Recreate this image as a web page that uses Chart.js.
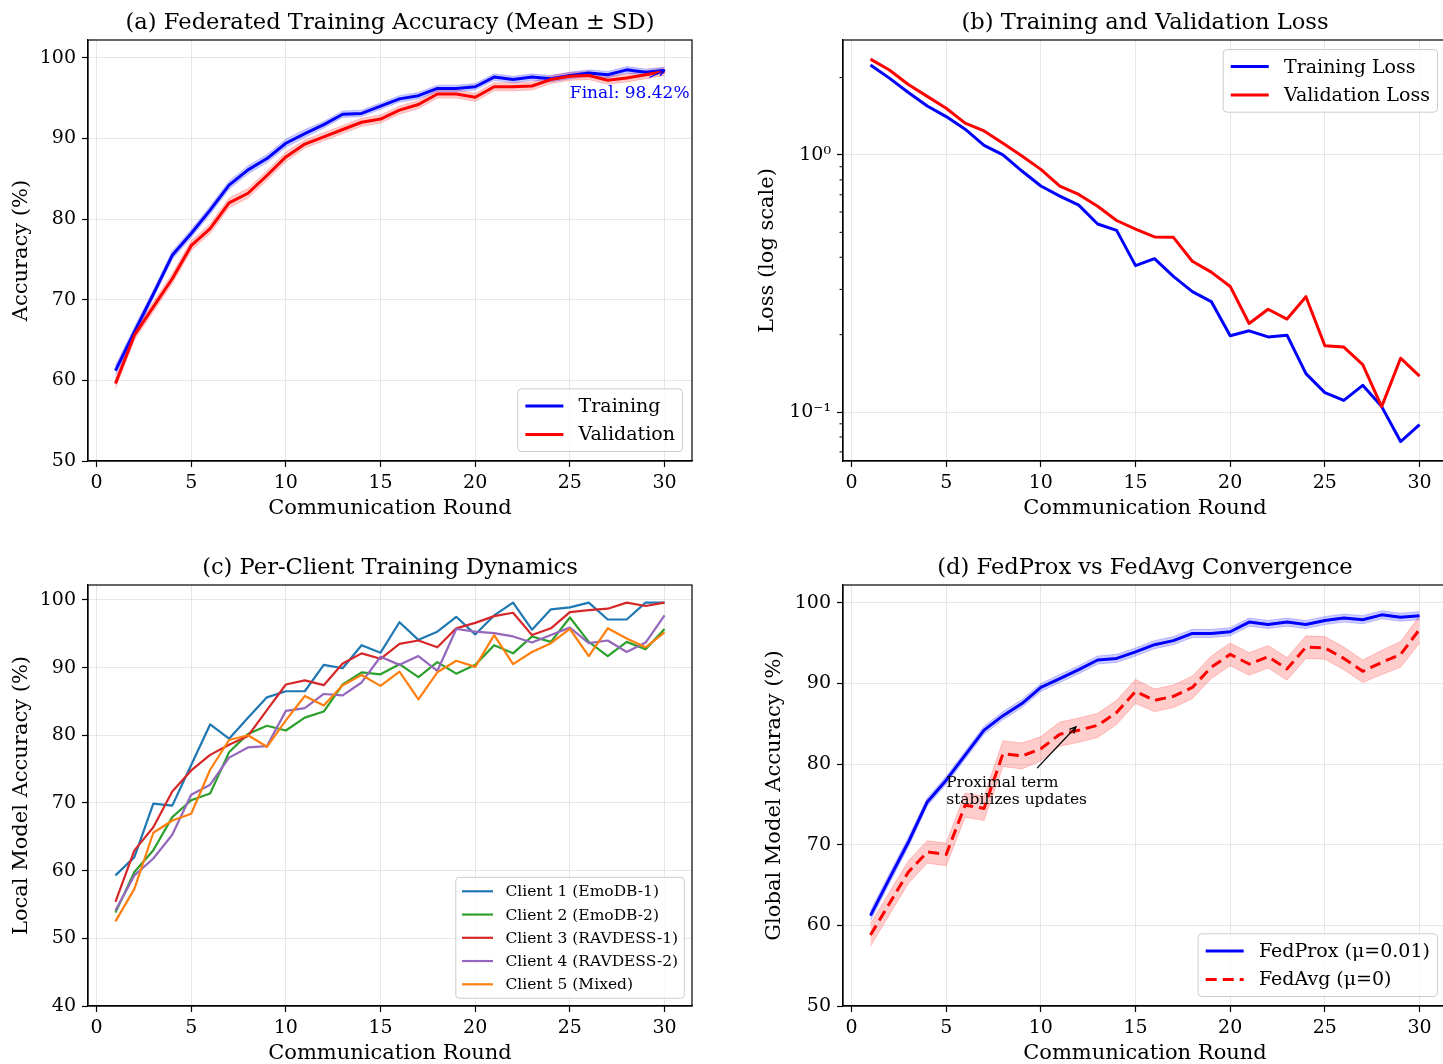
<!DOCTYPE html>
<html>
<head>
<meta charset="utf-8">
<script src="https://cdn.jsdelivr.net/npm/chart.js@4.4.0/dist/chart.umd.min.js"></script>
<style>
html,body{margin:0;padding:0;background:#fff;overflow:hidden;width:1443px;height:1064px;}
canvas{position:absolute;}
</style>
</head>
<body>
<canvas id="ca" width="780" height="531" style="left:0;top:0"></canvas>
<canvas id="cb" width="844" height="531" style="left:723px;top:0"></canvas>
<canvas id="cc" width="780" height="531" style="left:0;top:545px"></canvas>
<canvas id="cd" width="844" height="531" style="left:723px;top:545px"></canvas>
<script>
// values
const rounds = [1,2,3,4,5,6,7,8,9,10,11,12,13,14,15,16,17,18,19,20,21,22,23,24,25,26,27,28,29,30];
const xTicks = [0,5,10,15,20,25,30];
const accTicks = [50,60,70,80,90,100];
const clientTicks = [40,50,60,70,80,90,100];
const logTicks = [0.1,1];
const logLabels = ['10\u207B\u00B9','10\u2070'];
const logMinor = [0.07,0.08,0.09,0.2,0.3,0.4,0.5,0.6,0.7,0.8,0.9,2];

// (a)
const trainAcc = [61.2,66.0,70.7,75.5,78.2,81.1,84.2,86.1,87.5,89.4,90.6,91.7,93.0,93.1,94.0,94.9,95.3,96.2,96.2,96.4,97.6,97.3,97.6,97.4,97.8,98.1,97.9,98.5,98.2,98.42];
const trainSd  = [0.6,0.6,0.5,0.5,0.5,0.5,0.5,0.5,0.5,0.5,0.5,0.4,0.4,0.4,0.4,0.4,0.4,0.4,0.4,0.4,0.4,0.4,0.4,0.4,0.4,0.4,0.4,0.4,0.4,0.4];
const valAcc   = [59.6,65.6,69.1,72.6,76.7,78.8,82.0,83.2,85.4,87.7,89.3,90.2,91.1,92.0,92.4,93.5,94.2,95.5,95.5,95.1,96.4,96.4,96.5,97.3,97.7,97.8,97.2,97.5,97.9,98.3];
const valSd    = [0.6,0.6,0.6,0.6,0.6,0.6,0.6,0.6,0.6,0.6,0.5,0.5,0.5,0.5,0.5,0.5,0.5,0.5,0.5,0.5,0.5,0.5,0.5,0.5,0.5,0.5,0.5,0.5,0.5,0.5];

// (b)
const trainLoss = [2.24,1.99,1.75,1.55,1.41,1.26,1.09,1.00,0.866,0.757,0.692,0.638,0.539,0.509,0.371,0.395,0.337,0.294,0.269,0.198,0.207,0.196,0.199,0.141,0.119,0.111,0.127,0.105,0.0768,0.0893];
const valLoss   = [2.36,2.14,1.88,1.69,1.52,1.33,1.24,1.11,0.991,0.879,0.757,0.702,0.632,0.556,0.515,0.480,0.478,0.386,0.350,0.308,0.221,0.251,0.230,0.281,0.181,0.179,0.153,0.105,0.162,0.138];

// (c)
const client1 = [59.3,62.0,69.9,69.6,75.6,81.6,79.5,82.6,85.6,86.5,86.5,90.4,89.9,93.3,92.2,96.7,94.1,95.3,97.5,94.9,97.7,99.6,95.6,98.6,98.9,99.6,97.1,97.1,99.6,99.6];
const client2 = [53.8,59.8,63.0,67.9,70.4,71.4,77.5,80.2,81.4,80.7,82.6,83.5,87.5,89.3,89.0,90.5,88.6,90.8,89.1,90.4,93.3,92.1,94.6,93.8,97.4,93.8,91.7,93.8,92.7,95.7];
const client3 = [55.4,63.0,66.4,71.7,74.8,77.1,78.6,79.9,83.7,87.5,88.1,87.4,90.6,92.1,91.3,93.5,94.0,93.0,95.8,96.6,97.6,98.1,94.8,95.8,98.2,98.5,98.7,99.6,99.1,99.6];
const client4 = [54.1,59.3,61.8,65.3,71.2,72.7,76.7,78.2,78.4,83.6,84.0,86.1,85.9,87.8,91.6,90.4,91.7,89.5,95.7,95.3,95.1,94.6,93.7,94.8,95.9,93.6,94.0,92.3,93.7,97.7];
const client5 = [52.5,57.3,65.6,67.4,68.4,74.9,79.3,80.0,78.3,82.2,85.8,84.4,87.4,88.9,87.3,89.4,85.3,89.3,91.0,90.1,94.8,90.5,92.3,93.6,95.7,91.7,95.8,94.3,93.0,95.2];
const clientNames = ['Client 1 (EmoDB-1)','Client 2 (EmoDB-2)','Client 3 (RAVDESS-1)','Client 4 (RAVDESS-2)','Client 5 (Mixed)'];
const clientColors = ['#1f77b4','#2ca02c','#d62728','#9467bd','#ff7f0e'];

// (d)
const fedProx   = [61.2,65.8,70.3,75.3,78.0,81.1,84.2,86.0,87.5,89.5,90.6,91.7,92.9,93.1,93.9,94.8,95.3,96.2,96.2,96.4,97.6,97.3,97.6,97.3,97.8,98.1,97.9,98.5,98.2,98.4];
const fedProxSd = [0.6,0.6,0.6,0.5,0.5,0.5,0.5,0.5,0.5,0.5,0.5,0.5,0.5,0.5,0.5,0.5,0.5,0.5,0.5,0.5,0.5,0.5,0.5,0.5,0.5,0.5,0.5,0.5,0.5,0.5];
const fedAvg    = [58.8,62.7,66.6,69.1,68.8,74.9,74.5,81.3,81.0,81.9,83.7,84.2,84.8,86.4,89.0,87.9,88.4,89.5,92.0,93.6,92.4,93.3,91.8,94.5,94.4,93.1,91.5,92.6,93.6,96.7];
const fedAvgSd  = [1.4,1.4,1.4,1.4,1.4,1.5,1.5,1.6,1.6,1.5,1.5,1.5,1.5,1.5,1.5,1.4,1.4,1.4,1.4,1.4,1.4,1.4,1.4,1.4,1.4,1.4,1.4,1.5,1.6,1.7];

const FONT = '"DejaVu Serif"';
Chart.defaults.font.family = FONT;
Chart.defaults.color = '#000';
const GRID = 'rgba(176,176,176,0.3)';

function pts(vals){ return rounds.map((r,i)=>({x:r, y:vals[i]})); }

function line(label, vals, color, width, extra){
  return Object.assign({label, legend:true, data:pts(vals), borderColor:color, backgroundColor:color,
    borderWidth:width, pointRadius:0, fill:false, tension:0, borderJoinStyle:'round'}, extra||{});
}
function band(mean, sd, rgb){
  const c = 'rgba(' + rgb + ',0.2)';
  return [
    {data:pts(mean.map((m,i)=>m+sd[i])), borderColor:c, borderWidth:1, pointRadius:0, fill:false, order:10},
    {data:pts(mean.map((m,i)=>m-sd[i])), borderColor:c, borderWidth:1, pointRadius:0, fill:'-1', backgroundColor:c, order:10}
  ];
}

function xAxis(){
  return {
    type:'linear', min:-0.45, max:31.45,
    afterBuildTicks: s => { s.ticks = xTicks.map(v=>({value:v})); },
    afterFit: s => { s.height = 70; },
    grid:{color:GRID, lineWidth:1, tickLength:6, tickColor:'#000', tickWidth:1.2},
    border:{color:'#000', width:1.2},
    ticks:{font:{size:19}, padding:5, color:'#000', maxRotation:0, autoSkip:false},
    title:{display:true, text:'Communication Round', font:{size:21}, padding:{top:0, bottom:10}, color:'#000'}
  };
}
function yAxis(type, min, max, ticks, title, width, tpad, labels){
  return {
    type, min, max,
    afterBuildTicks: s => { s.ticks = ticks.map(v=>({value:v})); },
    afterFit: s => { s.width = width; },
    grid:{color:GRID, lineWidth:1, tickLength:6, tickColor:'#000', tickWidth:1.2},
    border:{color:'#000', width:1.2},
    ticks:{font:{size:19}, padding:6, color:'#000', autoSkip:false,
      callback: (v, i) => labels ? labels[i] : String(v)},
    title:{display:true, text:title, font:{size:21}, padding:{top:tpad, bottom:0}, color:'#000'}
  };
}

// plugins
const frame = {
  id:'frame',
  afterDraw(chart){
    const a = chart.chartArea, ctx = chart.ctx;
    ctx.save(); ctx.strokeStyle = '#000'; ctx.lineWidth = 1.2;
    ctx.strokeRect(a.left, a.top, a.right - a.left, a.bottom - a.top);
    ctx.restore();
  }
};
const minorTicks = {
  id:'minorTicks',
  afterDraw(chart, args, o){
    if(!o.values) return;
    const s = chart.scales.y, a = chart.chartArea, ctx = chart.ctx;
    ctx.save(); ctx.strokeStyle = '#000'; ctx.lineWidth = 1;
    o.values.forEach(v=>{
      const py = s.getPixelForValue(v);
      if(py < a.top || py > a.bottom) return;
      ctx.beginPath(); ctx.moveTo(a.left, py); ctx.lineTo(a.left - 3.5, py); ctx.stroke();
    });
    ctx.restore();
  }
};
function arrow(ctx, x1, y1, x2, y2){
  ctx.beginPath(); ctx.moveTo(x1, y1); ctx.lineTo(x2, y2); ctx.stroke();
  const ang = Math.atan2(y2 - y1, x2 - x1), L = 7, w = 0.45;
  ctx.beginPath();
  ctx.moveTo(x2 - L*Math.cos(ang - w), y2 - L*Math.sin(ang - w));
  ctx.lineTo(x2, y2);
  ctx.lineTo(x2 - L*Math.cos(ang + w), y2 - L*Math.sin(ang + w));
  ctx.stroke();
}
const notes = {
  id:'notes',
  afterDraw(chart, args, o){
    const xs = chart.scales.x, ys = chart.scales.y, ctx = chart.ctx;
    (o.items || []).forEach(n=>{
      ctx.save();
      ctx.font = n.size + 'px ' + FONT;
      ctx.fillStyle = n.color; ctx.strokeStyle = n.color; ctx.lineWidth = 1.3;
      ctx.textAlign = 'left'; ctx.textBaseline = 'alphabetic';
      const tx = xs.getPixelForValue(n.at[0]), ty = ys.getPixelForValue(n.at[1]);
      n.lines.forEach((t, i)=>{
        ctx.fillText(t, tx, ty - (n.lines.length - 1 - i) * n.gap);
      });
      arrow(ctx, xs.getPixelForValue(n.from[0]), ys.getPixelForValue(n.from[1]),
                 xs.getPixelForValue(n.to[0]), ys.getPixelForValue(n.to[1]));
      ctx.restore();
    });
  }
};
const boxLegend = {
  id:'boxLegend',
  afterDraw(chart, args, o){
    const a = chart.chartArea, ctx = chart.ctx;
    const items = chart.data.datasets.filter(d=>d.legend).sort((p,q)=>p.li - q.li);
    const fs = o.size;
    ctx.save();
    ctx.font = fs + 'px ' + FONT;
    const tw = Math.max(...items.map(d=>ctx.measureText(d.label).width));
    const pad = 0.4*fs, hl = 2*fs, gap = 0.8*fs, m = 0.5*fs;
    const w = 2*pad + hl + gap + tw;
    const h = 2*pad + items.length*fs + (items.length - 1)*0.5*fs;
    const x = a.right - m - w;
    const y = o.pos === 'top' ? a.top + m : a.bottom - m - h;
    ctx.beginPath(); ctx.roundRect(x, y, w, h, 0.2*fs);
    ctx.fillStyle = 'rgba(255,255,255,0.8)'; ctx.fill();
    ctx.strokeStyle = '#cccccc'; ctx.lineWidth = 1; ctx.stroke();
    items.forEach((d, i)=>{
      const cy = y + pad + i*1.5*fs + fs/2;
      ctx.beginPath(); ctx.moveTo(x + pad, cy); ctx.lineTo(x + pad + hl, cy);
      ctx.strokeStyle = d.borderColor; ctx.lineWidth = d.borderWidth;
      ctx.setLineDash(d.borderDash || []); ctx.stroke(); ctx.setLineDash([]);
      ctx.fillStyle = '#000'; ctx.textAlign = 'left'; ctx.textBaseline = 'middle';
      ctx.fillText(d.label, x + pad + hl + gap, cy + 1);
    });
    ctx.restore();
  }
};
const panelTitle = {
  id:'panelTitle',
  afterDraw(chart, args, o){
    const a = chart.chartArea, ctx = chart.ctx;
    ctx.save();
    ctx.font = '22.6px ' + FONT; ctx.fillStyle = '#000';
    ctx.textAlign = 'center'; ctx.textBaseline = 'middle';
    ctx.fillText(o.text, (a.left + a.right)/2, a.top - 16.5);
    ctx.restore();
  }
};

function make(id, datasets, y, rightPad, plug){
  return new Chart(document.getElementById(id), {
    type:'line',
    data:{datasets},
    options:{
      responsive:false, animation:false, devicePixelRatio:1,
      layout:{padding:{left:0, right:rightPad, top:40, bottom:0}},
      scales:{x:xAxis(), y},
      plugins:Object.assign({legend:{display:false}, tooltip:{enabled:false}}, plug)
    },
    plugins:[frame, minorTicks, notes, boxLegend, panelTitle]
  });
}

// (a)
make('ca', [
  line('Validation', valAcc, '#ff0000', 3, {order:1, li:1}),
  line('Training', trainAcc, '#0000ff', 3, {order:2, li:0}),
  ...band(trainAcc, trainSd, '0,0,255'),
  ...band(valAcc, valSd, '255,0,0')
], yAxis('linear', 50, 102.2, accTicks, 'Accuracy (%)', 88, 9.4), 88, {
  panelTitle:{text:'(a) Federated Training Accuracy (Mean \u00B1 SD)'},
  boxLegend:{size:19, pos:'bottom'},
  notes:{items:[{lines:['Final: 98.42%'], at:[25, 95.0], size:17, gap:0, color:'#0000ff',
    from:[29.2, 97.55], to:[30, 98.42]}]}
});

// (b)
make('cb', [
  line('Validation Loss', valLoss, '#ff0000', 3, {order:1, li:1}),
  line('Training Loss', trainLoss, '#0000ff', 3, {order:2, li:0})
], yAxis('logarithmic', 0.0645, 2.80, logTicks, 'Loss (log scale)', 120, 32.4, logLabels), 120, {
  panelTitle:{text:'(b) Training and Validation Loss'},
  boxLegend:{size:19, pos:'top'},
  minorTicks:{values:logMinor}
});

// (c)
const clientVals = [client1, client2, client3, client4, client5];
make('cc', clientVals.map((v, i)=>line(clientNames[i], v, clientColors[i], 2.2, {order:5 - i, li:i})),
  yAxis('linear', 40, 102.2, clientTicks, 'Local Model Accuracy (%)', 88, 9.4), 88, {
  panelTitle:{text:'(c) Per-Client Training Dynamics'},
  boxLegend:{size:15.5, pos:'bottom'}
});

// (d)
make('cd', [
  line('FedAvg (\u03BC=0)', fedAvg, '#ff0000', 3, {order:1, li:1, borderDash:[11,6]}),
  line('FedProx (\u03BC=0.01)', fedProx, '#0000ff', 3, {order:2, li:0}),
  ...band(fedProx, fedProxSd, '0,0,255'),
  ...band(fedAvg, fedAvgSd, '255,0,0')
], yAxis('linear', 50, 102.2, accTicks, 'Global Model Accuracy (%)', 120, 39.4), 120, {
  panelTitle:{text:'(d) FedProx vs FedAvg Convergence'},
  boxLegend:{size:19, pos:'bottom'},
  notes:{items:[{lines:['Proximal term', 'stabilizes updates'], at:[5, 75.0], size:15.5, gap:17, color:'#000',
    from:[9.8, 79.5], to:[11.85, 84.6]}]}
});
</script>
</body>
</html>
